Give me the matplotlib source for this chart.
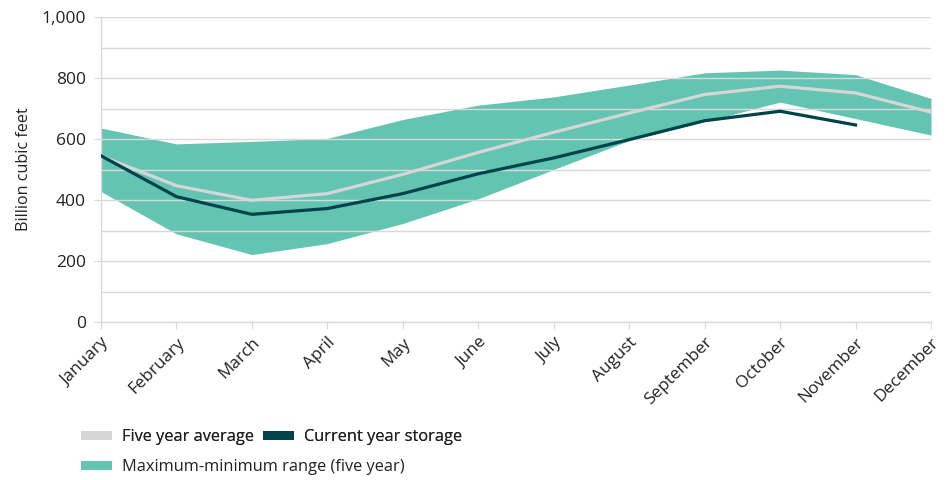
import numpy as np
import matplotlib.pyplot as plt
from matplotlib.patches import Patch

plt.rcParams['font.family'] = ['Open Sans', 'DejaVu Sans']

months = ['January', 'February', 'March', 'April', 'May', 'June', 'July',
          'August', 'September', 'October', 'November', 'December']
range_max = [636, 584, 592, 602, 664, 711, 738, 777, 817, 826, 811, 733]
range_min = [428, 289, 221, 257, 323, 404, 500, 595, 657, 721, 667, 613]
five_year_avg = [544, 447, 399, 421, 484, 556, 622, 685, 746, 773, 751, 688]
current_year = [545, 411, 353, 372, 421, 486, 538, 598, 660, 691, 646]

TEAL = '#64c4b2'
DARK = '#00434a'
GREY = '#d6d6d6'
GRID = '#d9d9d9'
TEXT = '#222222'

fig = plt.figure(figsize=(9.48, 4.8), dpi=100)
ax = fig.add_axes([101 / 948, 1 - 322 / 480, 830 / 948, 305 / 480])

x = np.arange(len(months))
ax.fill_between(x, range_min, range_max, color=TEAL, lw=0, zorder=1)
ax.plot(x, five_year_avg, color=GREY, lw=2.3, zorder=3)
ax.plot(x[:len(current_year)], current_year, color=DARK, lw=2.3, zorder=4)

ax.set_xlim(0, len(months) - 1)
ax.set_ylim(0, 1000)
ax.set_yticks(np.arange(0, 1001, 200))
ax.set_yticks(np.arange(100, 1000, 200), minor=True)
ax.set_yticklabels([f'{v:,}' for v in range(0, 1001, 200)])
ax.set_xticks(x)
ax.set_xticklabels(months, rotation=45, ha='right', va='top',
                   rotation_mode='anchor')

ax.set_axisbelow(False)
ax.yaxis.grid(True, which='both', color=GRID, lw=1)
ax.tick_params(axis='y', which='major', length=5, color=GRID, labelsize=12.5,
               labelcolor=TEXT, pad=6)
ax.tick_params(axis='y', which='minor', length=0)
ax.tick_params(axis='x', length=5, color=GRID, labelsize=12.3,
               labelcolor=TEXT, pad=4)
for s in ['top', 'right']:
    ax.spines[s].set_visible(False)
for s in ['left', 'bottom']:
    ax.spines[s].set_color(GRID)
    ax.spines[s].set_linewidth(1)

ax.set_ylabel('Billion cubic feet', fontsize=11.6, color=TEXT, labelpad=7)

h_avg = Patch(facecolor=GREY, edgecolor='none')
h_cur = Patch(facecolor=DARK, edgecolor='none')
h_rng = Patch(facecolor=TEAL, edgecolor='none')

leg_kw = dict(loc='center left', frameon=False, fontsize=11.8,
              handlelength=1.9, handleheight=0.5, handletextpad=0.6,
              borderpad=0, borderaxespad=0, labelcolor=TEXT)
leg1 = fig.legend([h_avg, h_cur], ['Five year average', 'Current year storage'],
                  bbox_to_anchor=(81 / 948, 1 - 437 / 480), ncol=2,
                  columnspacing=0.55, **leg_kw)
leg2 = fig.legend([h_rng], ['Maximum-minimum range (five year)'],
                  bbox_to_anchor=(81 / 948, 1 - 467 / 480), **leg_kw)
fig.add_artist(leg1)

fig.savefig('out.png', dpi=100)
